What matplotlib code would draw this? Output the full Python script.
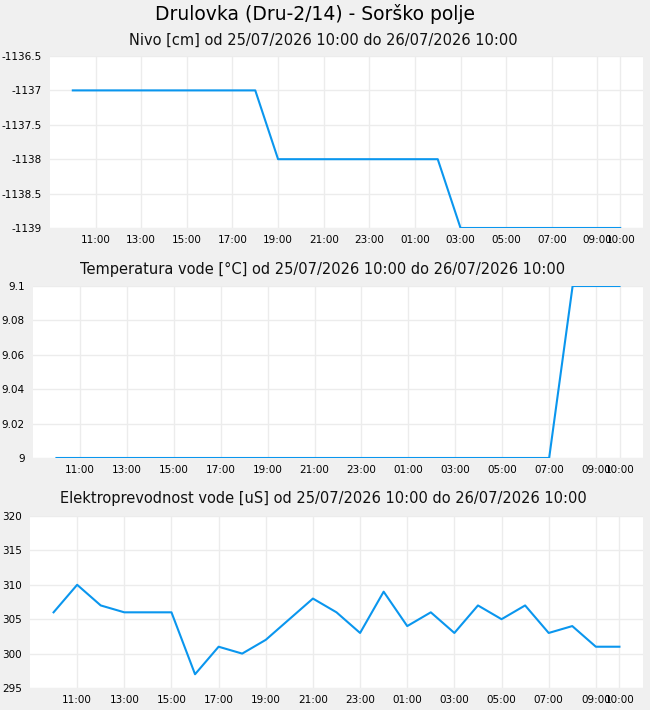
"""Three-panel well readings (level, water temperature, conductivity)."""
from datetime import datetime, timedelta

import matplotlib

matplotlib.use("Agg")
import matplotlib.pyplot as plt
import matplotlib.dates as mdates

# --- data -------------------------------------------------------------
START = datetime(2026, 7, 25, 10, 0)
times = [START + timedelta(hours=h) for h in range(25)]

nivo = [-1137, -1137, -1137, -1137, -1137, -1137, -1137, -1137, -1137,
        -1138, -1138, -1138, -1138, -1138, -1138, -1138, -1138,
        -1139, -1139, -1139, -1139, -1139, -1139, -1139, -1139]

temperatura = [9.0, 9.0, 9.0, 9.0, 9.0, 9.0, 9.0, 9.0, 9.0, 9.0, 9.0,
               9.0, 9.0, 9.0, 9.0, 9.0, 9.0, 9.0, 9.0, 9.0, 9.0, 9.0,
               9.1, 9.1, 9.1]

prevodnost = [306, 310, 307, 306, 306, 306, 297, 301, 300, 302, 305, 308,
              306, 303, 309, 304, 306, 303, 307, 305, 307, 303, 304, 301,
              301]

title = "Drulovka (Dru-2/14) - Sorško polje"
subtitles = [
    "Nivo [cm] od 25/07/2026 10:00 do 26/07/2026 10:00",
    "Temperatura vode [°C] od 25/07/2026 10:00 do 26/07/2026 10:00",
    "Elektroprevodnost vode [uS] od 25/07/2026 10:00 do 26/07/2026 10:00",
]
y_ticks = [
    [-1139, -1138.5, -1138, -1137.5, -1137, -1136.5],
    [9.0, 9.02, 9.04, 9.06, 9.08, 9.1],
    [295, 300, 305, 310, 315, 320],
]
y_labels = [
    ["-1139", "-1138.5", "-1138", "-1137.5", "-1137", "-1136.5"],
    ["9", "9.02", "9.04", "9.06", "9.08", "9.1"],
    ["295", "300", "305", "310", "315", "320"],
]
x_ticks = times[1:24:2] + [times[24]]

LINE = "#0a96ee"
GRID = "#ececec"
BG = "#f0f0f0"

W, H = 650, 710
fig = plt.figure(figsize=(W / 100, H / 100), dpi=100, facecolor=BG)

# axes boxes in pixels: left, top, right, bottom
boxes = [(50, 56, 643, 228), (33, 286, 643, 458), (30, 516, 643, 688)]
sub_y = [40, 269, 499]
series = [nivo, temperatura, prevodnost]

fig.text(315 / W, 1 - 14 / H, title, ha="center", va="center",
         fontsize=13.5, color="black")

for i, (l, t, r, b) in enumerate(boxes):
    ax = fig.add_axes([l / W, 1 - b / H, (r - l) / W, (b - t) / H])
    ax.set_facecolor("white")
    ax.plot(times, series[i], color=LINE, linewidth=1.5, zorder=3)
    ax.set_xlim(START - timedelta(hours=1), START + timedelta(hours=25))
    ax.set_ylim(y_ticks[i][0], y_ticks[i][-1])
    ax.set_yticks(y_ticks[i], y_labels[i])
    ax.set_xticks(x_ticks)
    ax.xaxis.set_major_formatter(mdates.DateFormatter("%H:%M"))
    ax.tick_params(axis="both", length=0, labelsize=7.5, colors="black")
    ax.tick_params(axis="y", pad=6)
    ax.tick_params(axis="x", pad=5)
    ax.grid(color=GRID, linewidth=1, zorder=1)
    ax.set_axisbelow(True)
    for spine in ax.spines.values():
        spine.set_visible(False)
    fig.text(323 / W, 1 - sub_y[i] / H, subtitles[i], ha="center",
             va="center", fontsize=10.5, color="#111111")

fig.savefig("out.png", dpi=100, facecolor=BG)
